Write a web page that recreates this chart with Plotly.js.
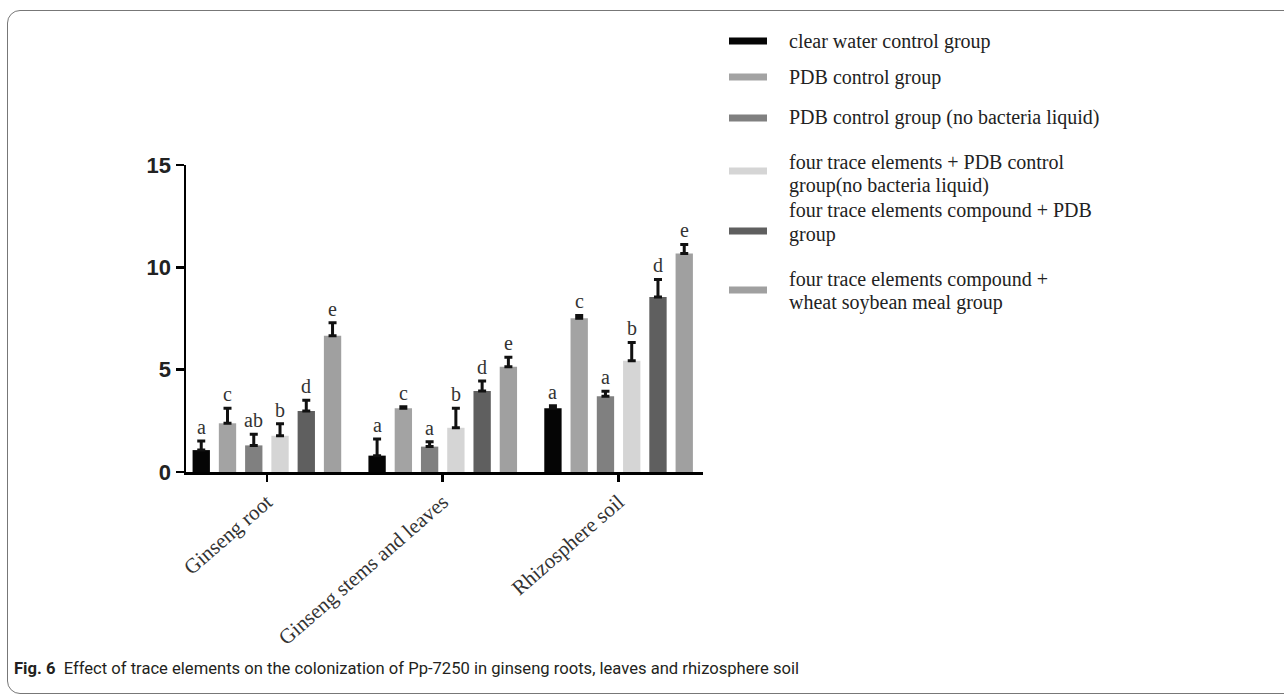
<!DOCTYPE html>
<html>
<head>
<meta charset="utf-8">
<script src="https://cdn.plot.ly/plotly-3.0.1.min.js"></script>
<style>
  html, body { margin: 0; padding: 0; background: #fff; overflow: hidden; }
  #chart { position: absolute; left: 0; top: 0; width: 1284px; height: 695px; }
  #frame { position: absolute; left: 7px; top: 10px; width: 1400px; height: 682px;
           border: 1.5px solid #777; border-radius: 13px; pointer-events: none; }
</style>
</head>
<body>
<div id="chart"></div>
<div id="frame"></div>
<script>
// ---------------- data ----------------
const categories = ['Ginseng root', 'Ginseng stems and leaves', 'Rhizosphere soil'];

const seriesNames = [
  'clear water control group',
  'PDB control group',
  'PDB control group (no bacteria liquid)',
  'four trace elements + PDB control<br>group(no bacteria liquid)',
  'four trace elements compound + PDB<br>group',
  'four trace elements compound +<br>wheat soybean meal group'
];

const clearWater      = [1.07, 0.80, 3.11];
const clearWaterErr   = [0.45, 0.81, 0.13];
const clearWaterSig   = ['a', 'a', 'a'];

const pdbControl      = [2.38, 3.11, 7.51];
const pdbControlErr   = [0.73, 0.08, 0.14];
const pdbControlSig   = ['c', 'c', 'c'];

const pdbNoBac        = [1.30, 1.24, 3.70];
const pdbNoBacErr     = [0.54, 0.24, 0.24];
const pdbNoBacSig     = ['ab', 'a', 'a'];

const traceNoBac      = [1.77, 2.16, 5.44];
const traceNoBacErr   = [0.59, 0.95, 0.89];
const traceNoBacSig   = ['b', 'b', 'b'];

const compoundPdb     = [2.98, 3.96, 8.55];
const compoundPdbErr  = [0.52, 0.49, 0.86];
const compoundPdbSig  = ['d', 'd', 'd'];

const compoundWheat    = [6.66, 5.14, 10.68];
const compoundWheatErr = [0.63, 0.47, 0.44];
const compoundWheatSig = ['e', 'e', 'e'];

const yTickVals = [0, 5, 10, 15];
const captionBold = 'Fig. 6';
const captionText = 'Effect of trace elements on the colonization of Pp-7250 in ginseng roots, leaves and rhizosphere soil';

// ---------------- styling ----------------
const values  = [clearWater, pdbControl, pdbNoBac, traceNoBac, compoundPdb, compoundWheat];
const errors  = [clearWaterErr, pdbControlErr, pdbNoBacErr, traceNoBacErr, compoundPdbErr, compoundWheatErr];
const letters = [clearWaterSig, pdbControlSig, pdbNoBacSig, traceNoBacSig, compoundPdbSig, compoundWheatSig];
const colors  = ['#050505', '#a3a3a3', '#808080', '#d5d5d5', '#5f5f5f', '#a0a0a0'];

const BARGAP = 0.104, BARGROUPGAP = 0.34;
const serif = 'Liberation Serif, Times New Roman, serif';

// plot area in pixels
const L = 186, R = 703, T = 165, B = 472, W = 1284, H = 695;
const px2x = p => (p - L) / (R - L);
const px2y = p => (B - p) / (B - T);

const traces = values.map((v, j) => ({
  type: 'bar',
  name: seriesNames[j].replace('<br>', ' '),
  x: categories,
  y: v,
  marker: { color: colors[j], line: { width: 0 } },
  error_y: { type: 'data', symmetric: false, array: errors[j], arrayminus: v.map(() => 0),
             color: '#111', thickness: 3, width: 4 },
  showlegend: false,
  hoverinfo: 'x+y'
}));

const annotations = [];
const shapes = [];
const slot = (1 - BARGAP) / values.length;
values.forEach((v, j) => {
  v.forEach((val, i) => {
    annotations.push({
      x: i + (j - (values.length - 1) / 2) * slot, xref: 'x',
      y: val + errors[j][i], yref: 'y',
      text: letters[j][i], showarrow: false,
      xanchor: 'center', yanchor: 'bottom', yshift: 1,
      font: { family: serif, size: 20, color: '#333' }
    });
  });
});

// custom legend (wide flat swatches as in the reference)
const legendSymbolY = [41, 77, 118, 171, 231, 290];
const legendLineY   = [[41], [77], [118], [162, 185], [210, 234], [279, 302]];
seriesNames.forEach((nm, j) => {
  shapes.push({
    type: 'rect', xref: 'paper', yref: 'paper',
    x0: px2x(729), x1: px2x(767),
    y0: px2y(legendSymbolY[j] + 3.5), y1: px2y(legendSymbolY[j] - 3.5),
    fillcolor: colors[j], line: { width: 0 }
  });
  nm.split('<br>').forEach((line, k) => {
    annotations.push({
      xref: 'paper', yref: 'paper', x: px2x(787), y: px2y(legendLineY[j][k]),
      xanchor: 'left', yanchor: 'middle', showarrow: false,
      text: line, font: { family: serif, size: 20, color: '#222' }
    });
  });
});

// caption
annotations.push({
  xref: 'paper', yref: 'paper', x: px2x(12), y: px2y(668),
  xanchor: 'left', yanchor: 'middle', showarrow: false,
  text: '<b>' + captionBold + '</b>  ' + captionText,
  font: { family: 'Roboto, sans-serif', size: 16.6, color: '#231f20' }
});

const layout = {
  width: W, height: H,
  margin: { l: L, r: W - R, t: T, b: H - B, pad: 0 },
  paper_bgcolor: 'rgba(0,0,0,0)', plot_bgcolor: 'rgba(0,0,0,0)',
  barmode: 'group', bargap: BARGAP, bargroupgap: BARGROUPGAP,
  showlegend: false,
  xaxis: {
    type: 'category', range: [-0.46, 2.48],
    showline: true, linecolor: '#000', linewidth: 2.5,
    ticks: 'outside', ticklen: 7, tickwidth: 2.5, tickcolor: '#000',
    tickangle: -41, showgrid: false, zeroline: false,
    tickfont: { family: serif, size: 21, color: '#333' }
  },
  yaxis: {
    range: [0, 15], tickvals: yTickVals, ticktext: yTickVals.map(String),
    showline: true, linecolor: '#000', linewidth: 2.5,
    ticks: 'outside', ticklen: 8, tickwidth: 2.5, tickcolor: '#000',
    showgrid: false, zeroline: false,
    tickfont: { family: 'Liberation Sans, Arial, sans-serif', size: 22, color: '#222', weight: 'bold' }
  },
  annotations: annotations,
  shapes: shapes
};

Plotly.newPlot('chart', traces, layout, { displayModeBar: false, staticPlot: true });
</script>
</body>
</html>
